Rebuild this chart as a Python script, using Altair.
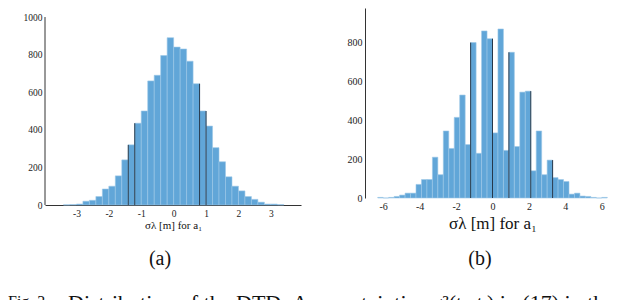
import altair as alt
import pandas as pd

FONT = "Liberation Serif, Times New Roman, serif"

# ---- panel (a) ----
left_edges = [-3.4, -3.2, -3.0, -2.8, -2.6, -2.4, -2.2, -2.0, -1.8, -1.6, -1.4, -1.2,
              -1.0, -0.8, -0.6, -0.4, -0.2, 0.0, 0.2, 0.4, 0.6, 0.8, 1.0, 1.2, 1.4,
              1.6, 1.8, 2.0, 2.2, 2.4, 2.6, 2.8, 3.0, 3.2]
left_counts = [1, 2, 5, 20, 25, 45, 85, 100, 155, 240, 320, 435, 500, 660, 690, 795,
               890, 840, 830, 765, 645, 500, 420, 305, 230, 150, 100, 75, 45, 30, 15,
               5, 5, 2]
left_bin = 0.2
left_dark_x = [-1.4, -1.2, 0.8, 1.0]
left_dark_h = [320, 435, 645, 500]
left_xticks = [-3, -2, -1, 0, 1, 2, 3]
left_yticks = [0, 200, 400, 600, 800, 1000]

# ---- panel (b) ----
right_edges = [-6.3, -6.0, -5.7, -5.4, -5.1, -4.8, -4.5, -4.2, -3.9, -3.6, -3.3, -3.0,
               -2.7, -2.4, -2.1, -1.8, -1.5, -1.2, -0.9, -0.6, -0.3, 0.0, 0.3, 0.6,
               0.9, 1.2, 1.5, 1.8, 2.1, 2.4, 2.7, 3.0, 3.3, 3.6, 3.9, 4.2, 4.5, 4.8,
               5.1, 5.4, 5.7, 6.0]
right_counts = [3, 0, 3, 8, 15, 25, 25, 70, 95, 95, 210, 120, 345, 255, 415, 530, 275,
                800, 230, 860, 820, 335, 870, 245, 750, 265, 545, 550, 140, 345, 120,
                195, 105, 95, 85, 20, 25, 10, 8, 3, 0, 3]
right_bin = 0.3
right_dark_x = [-1.2, 0.0, 0.9, 2.1, 3.3]
right_dark_h = [800, 820, 750, 550, 195]
right_xticks = [-6, -4, -2, 0, 2, 4, 6]
right_yticks = [0, 200, 400, 600, 800]

xlabel = "σλ [m] for a₁"
caption_head = "Fig. 3."
caption_body = "Distribution of the DTDoA uncertainties σ²(tᵢ, tⱼ) in (17) in the"

FILL = "#61a6d8"
EDGE = "#9cc7e7"
DARK = "#26384a"
AX = "#333333"
MINUS = "replace(datum.label, '\u2212', '-')"


def panel(edges, counts, binw, dark_x, dark_h, xdom, ydom, xticks, yticks,
          w, h, title_size, label_size, title_pad, show_xdomain, tag, draw_yline):
    bars = pd.DataFrame({"x0": edges, "count": counts})
    bars["x1"] = bars["x0"] + binw
    darks = pd.DataFrame({"x": dark_x, "h": dark_h})

    xscale = alt.Scale(domain=xdom, nice=False, zero=False)
    yscale = alt.Scale(domain=ydom, nice=False, zero=False)

    xaxis = alt.Axis(values=xticks, grid=False, ticks=False, domain=show_xdomain,
                     domainColor=AX, domainWidth=1, labelFont=FONT,
                     labelFontSize=label_size, labelColor="#222", labelPadding=3,
                     labelOverlap=False, labelFlush=False, labelExpr=MINUS,
                     title=xlabel, titleFont=FONT, titleFontSize=title_size,
                     titleFontWeight="normal", titleColor="#111", titlePadding=title_pad)
    yaxis = alt.Axis(values=yticks, grid=False, ticks=False, domain=not draw_yline,
                     domainColor=AX, domainWidth=1, labelFont=FONT, format="d",
                     labelFontSize=label_size, labelColor="#222", labelPadding=3,
                     labelOverlap=False, labelFlush=False, title=None)

    base = alt.Chart(bars).mark_rect(fill=FILL, stroke=EDGE, strokeWidth=0.6).encode(
        x=alt.X("x0:Q", scale=xscale, axis=xaxis),
        x2="x1:Q",
        y=alt.Y("count:Q", scale=yscale, axis=yaxis),
        y2=alt.datum(0),
    )
    dark = alt.Chart(darks).mark_rule(color=DARK, strokeWidth=1).encode(
        x=alt.X("x:Q", scale=xscale, axis=xaxis),
        y=alt.Y("h:Q", scale=yscale, axis=yaxis),
        y2=alt.datum(0),
    )
    layers = [base, dark]
    if draw_yline:
        yline = alt.Chart(pd.DataFrame({"a": [0]})).mark_rule(color=AX, strokeWidth=1).encode(
            x=alt.value(0),
            y=alt.Y(datum=0, scale=yscale, axis=yaxis),
            y2=alt.datum(yticks[-1]),
        )
        layers.append(yline)
    lab = alt.Chart(pd.DataFrame({"t": [tag]})).mark_text(
        font=FONT, fontSize=20, align="center", baseline="alphabetic", color="#111"
    ).encode(x=alt.value(115), y=alt.value(257), text="t:N")
    layers.append(lab)
    return alt.layer(*layers).properties(width=w, height=h)


left = panel(left_edges, left_counts, left_bin, left_dark_x, left_dark_h,
             [-3.97, 3.93], [0, 1048], left_xticks, left_yticks, 256, 197,
             11, 9.5, 2, True, "(a)", True)
cap1 = alt.Chart(pd.DataFrame({"t": [caption_head]})).mark_text(
    font=FONT, fontSize=16, align="left", baseline="alphabetic", color="#111"
).encode(x=alt.value(-37), y=alt.value(299), text="t:N")
cap2 = alt.Chart(pd.DataFrame({"t": [caption_body]})).mark_text(
    font=FONT, fontSize=22, align="left", baseline="alphabetic", color="#111"
).encode(x=alt.value(23), y=alt.value(302), text="t:N")
left = alt.layer(left, cap1, cap2)

right = panel(right_edges, right_counts, right_bin, right_dark_x, right_dark_h,
              [-7, 7], [0, 978], right_xticks, right_yticks, 255, 190,
              17, 10, 4, False, "(b)", False)

chart = alt.hconcat(left, right, spacing=64, bounds="flush").properties(
    padding={"left": 0, "top": 0, "right": 0, "bottom": 0}
).configure_view(stroke=None).configure_axis(
    labelFont=FONT, titleFont=FONT, labelOverlap=False
)

chart.save("out.html", embed_options={"renderer": "svg", "actions": False})
